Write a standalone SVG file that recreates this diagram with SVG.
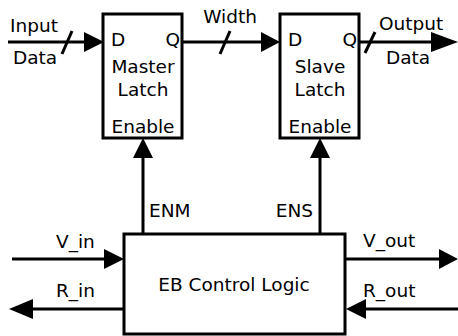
<svg xmlns="http://www.w3.org/2000/svg" width="458" height="336" viewBox="0 0 458 336">
<style>
.box{fill:#fff;stroke:#000;stroke-width:3}
.ln{fill:none;stroke:#000;stroke-width:3}
.ah{fill:#000}
text{font-family:"DejaVu Sans",Verdana,sans-serif;font-size:18.5px;fill:#000}
.m{text-anchor:middle}
</style>
<rect width="458" height="336" fill="#fff"/>
<g id="connectors">
<line class="ln" x1="8" y1="42" x2="86" y2="42"/>
<polygon class="ah" points="84,32 104,42 84,52"/>
<line class="ln" x1="62" y1="54" x2="72" y2="31"/>
<line class="ln" x1="182" y1="42" x2="263" y2="42"/>
<polygon class="ah" points="261,32 280,42 261,52"/>
<line class="ln" x1="220" y1="54" x2="230" y2="31"/>
<line class="ln" x1="359" y1="42" x2="433" y2="42"/>
<polygon class="ah" points="431,32 458,42 431,52"/>
<line class="ln" x1="365" y1="53" x2="375" y2="32"/>
<line class="ln" x1="143" y1="234" x2="143" y2="155"/>
<polygon class="ah" points="133,158 143,138 153,158"/>
<line class="ln" x1="320" y1="234" x2="320" y2="155"/>
<polygon class="ah" points="310,158 320,138 330,158"/>
<line class="ln" x1="12" y1="259" x2="106" y2="259"/>
<polygon class="ah" points="104,249 124,259 104,269"/>
<line class="ln" x1="124" y1="309" x2="30" y2="309"/>
<polygon class="ah" points="33,299 9,309 33,319"/>
<line class="ln" x1="345" y1="259" x2="441" y2="259"/>
<polygon class="ah" points="439,249 458,259 439,269"/>
<line class="ln" x1="458" y1="309" x2="363" y2="309"/>
<polygon class="ah" points="366,299 346,309 366,319"/>
<text x="10" y="32">Input</text>
<text x="13" y="64">Data</text>
<text x="230" y="23" class="m">Width</text>
<text x="379" y="30">Output</text>
<text x="386" y="64">Data</text>
<text x="149" y="217">ENM</text>
<text x="313" y="217" text-anchor="end">ENS</text>
<text x="56" y="248">V_in</text>
<text x="56" y="297">R_in</text>
<text x="363" y="247">V_out</text>
<text x="363" y="297">R_out</text>
</g>
<g id="master">
<rect class="box" x="103" y="14" width="79" height="124"/>
<text x="111" y="46">D</text>
<text x="180" y="46" text-anchor="end">Q</text>
<text x="143" y="73" class="m">Master</text>
<text x="143" y="96" class="m">Latch</text>
<text x="143" y="133" class="m">Enable</text>
</g>
<g id="slave">
<rect class="box" x="280" y="14" width="79" height="124"/>
<text x="288" y="46">D</text>
<text x="357" y="46" text-anchor="end">Q</text>
<text x="320" y="73" class="m">Slave</text>
<text x="320" y="96" class="m">Latch</text>
<text x="320" y="133" class="m">Enable</text>
</g>
<g id="control">
<rect class="box" x="124" y="234" width="221" height="100"/>
<text x="234" y="291" class="m">EB Control Logic</text>
</g>
</svg>
